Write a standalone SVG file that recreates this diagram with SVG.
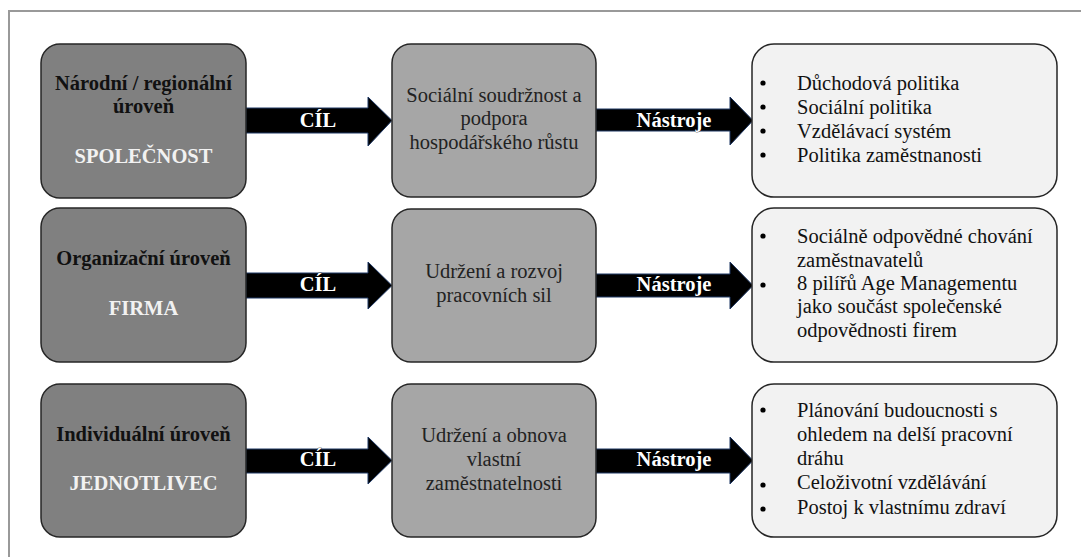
<svg xmlns="http://www.w3.org/2000/svg" width="1081" height="557" viewBox="0 0 1081 557">
<style>
text{font-family:'Liberation Serif','DejaVu Serif',serif;font-size:20.5px}
.lvl{fill:#808080;stroke:#262626;stroke-width:1.5}
.goal{fill:#a6a6a6;stroke:#262626;stroke-width:1.5}
.tool{fill:#f2f2f2;stroke:#262626;stroke-width:1.5}
.bt{font-weight:bold;fill:#111;text-anchor:middle}
.wt{font-weight:bold;fill:#f2f2f2;text-anchor:middle}
.mt{fill:#222;text-anchor:middle}
.rt{fill:#111}
.arr{fill:#000;stroke:#1f3864;stroke-width:1}
.al{font-weight:bold;fill:#fff;text-anchor:middle;stroke:#000;stroke-width:0.6;paint-order:stroke}
.dot{fill:#000}
</style>
<path d="M9 557 V11 H1081" fill="none" stroke="#999" stroke-width="2"/>
<g id="connectors">
<path class="arr" d="M246 108 H368 V97 L392 120.5 L368 146 V133 H246 Z"/>
<text class="al" x="318" y="127">CÍL</text>
<path class="arr" d="M596 109 H730 V97 L753 120.5 L730 145 V131 H596 Z"/>
<text class="al" x="674" y="127">Nástroje</text>
<path class="arr" d="M246 273 H368 V262 L392 285.5 L368 309 V298 H246 Z"/>
<text class="al" x="318" y="291">CÍL</text>
<path class="arr" d="M596 274 H730 V262 L753 285.5 L730 309 V297 H596 Z"/>
<text class="al" x="674" y="291">Nástroje</text>
<path class="arr" d="M246 449 H368 V437 L392 460.5 L368 484 V473 H246 Z"/>
<text class="al" x="318" y="466">CÍL</text>
<path class="arr" d="M596 449 H730 V437 L753 460.5 L730 484 V473 H596 Z"/>
<text class="al" x="674" y="466">Nástroje</text>
</g>
<g id="level1">
<rect class="lvl" x="41" y="44" width="205" height="154" rx="19"/>
<text class="bt" x="143.5" y="90">Národní / regionální</text>
<text class="bt" x="143.5" y="113">úroveň</text>
<text class="wt" x="143.5" y="163">SPOLEČNOST</text>
</g>
<g id="goal1">
<rect class="goal" x="392" y="44" width="204" height="153" rx="19"/>
<text class="mt" x="494" y="102">Sociální soudržnost a</text>
<text class="mt" x="494" y="125">podpora</text>
<text class="mt" x="494" y="149">hospodářského růstu</text>
</g>
<g id="tools1">
<rect class="tool" x="752" y="44" width="305" height="153" rx="22"/>
<circle class="dot" cx="763" cy="83" r="2.6"/>
<circle class="dot" cx="763" cy="107" r="2.6"/>
<circle class="dot" cx="763" cy="131" r="2.6"/>
<circle class="dot" cx="763" cy="155" r="2.6"/>
<text class="rt" x="797" y="90">Důchodová politika</text>
<text class="rt" x="797" y="114">Sociální politika</text>
<text class="rt" x="797" y="138">Vzdělávací systém</text>
<text class="rt" x="797" y="162">Politika zaměstnanosti</text>
</g>
<g id="level2">
<rect class="lvl" x="41" y="208" width="205" height="154" rx="19"/>
<text class="bt" x="143.5" y="265">Organizační úroveň</text>
<text class="wt" x="143.5" y="315">FIRMA</text>
</g>
<g id="goal2">
<rect class="goal" x="392" y="209" width="204" height="153" rx="19"/>
<text class="mt" x="494" y="278">Udržení a rozvoj</text>
<text class="mt" x="494" y="302">pracovních sil</text>
</g>
<g id="tools2">
<rect class="tool" x="752" y="208" width="305" height="154" rx="22"/>
<circle class="dot" cx="763" cy="236" r="2.6"/>
<circle class="dot" cx="763" cy="285" r="2.6"/>
<text class="rt" x="797" y="243">Sociálně odpovědné chování</text>
<text class="rt" x="797" y="267">zaměstnavatelů</text>
<text class="rt" x="797" y="290">8 pilířů Age Managementu</text>
<text class="rt" x="797" y="313">jako součást společenské</text>
<text class="rt" x="797" y="337">odpovědnosti firem</text>
</g>
<g id="level3">
<rect class="lvl" x="41" y="384" width="205" height="153" rx="19"/>
<text class="bt" x="143.5" y="441">Individuální úroveň</text>
<text class="wt" x="143.5" y="490">JEDNOTLIVEC</text>
</g>
<g id="goal3">
<rect class="goal" x="392" y="384" width="204" height="153" rx="19"/>
<text class="mt" x="494" y="442">Udržení a obnova</text>
<text class="mt" x="494" y="466">vlastní</text>
<text class="mt" x="494" y="490">zaměstnatelnosti</text>
</g>
<g id="tools3">
<rect class="tool" x="752" y="384" width="305" height="153" rx="22"/>
<circle class="dot" cx="763" cy="410" r="2.6"/>
<circle class="dot" cx="763" cy="485" r="2.6"/>
<circle class="dot" cx="763" cy="509" r="2.6"/>
<text class="rt" x="797" y="417">Plánování budoucnosti s</text>
<text class="rt" x="797" y="441">ohledem na delší pracovní</text>
<text class="rt" x="797" y="465">dráhu</text>
<text class="rt" x="797" y="489">Celoživotní vzdělávání</text>
<text class="rt" x="797" y="514">Postoj k vlastnímu zdraví</text>
</g>
</svg>
